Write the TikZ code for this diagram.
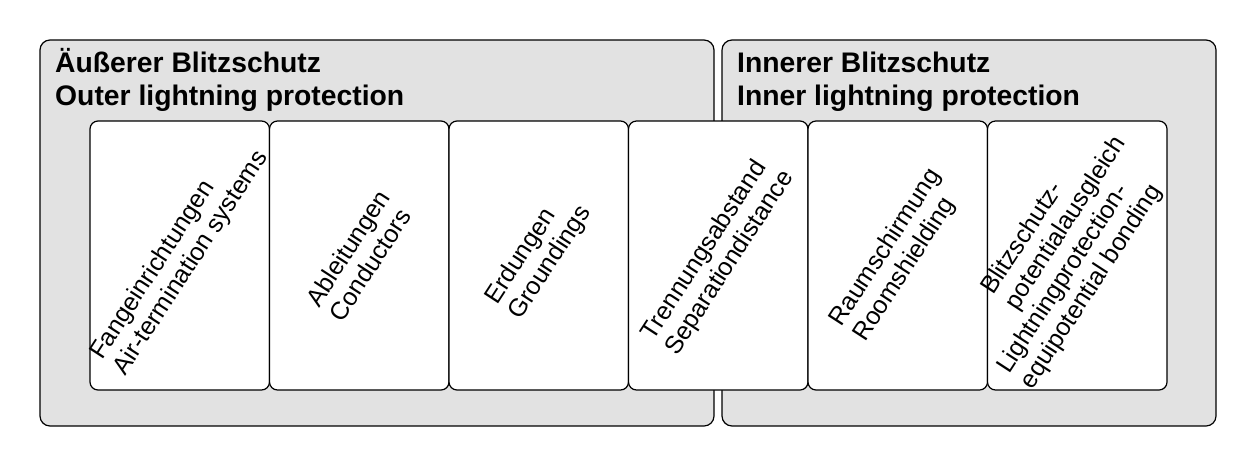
\documentclass[tikz,border=0pt]{standalone}
\usepackage{fontspec}
\setmainfont{Liberation Sans}
\definecolor{panelgray}{RGB}{226,226,226}
\begin{document}
\begin{tikzpicture}[x=1pt,y=-1pt,
  panel/.style={draw=black, line width=1.2pt, fill=panelgray, rounded corners=10pt},
  card/.style={draw=black, line width=1.2pt, fill=white, rounded corners=8pt},
  title/.style={anchor=base west, inner sep=0pt, font=\fontsize{28.3}{33}\selectfont\bfseries},
  lbl/.style={rotate=57, align=left, inner sep=0pt, font=\fontsize{25}{28}\selectfont}]
\useasboundingbox (0,0) rectangle (1257,467);
\path[panel] (40,40) rectangle (714,426);
\path[panel] (722,40) rectangle (1216,426);
\node[title] (o1) at (55,72) {Äußerer Blitzschutz};
\node[title] (o2) at (55,105) {Outer lightning protection};
\node[title] (i1) at (737,72) {Innerer Blitzschutz};
\node[title] (i2) at (737,105) {Inner lightning protection};
\foreach \x/\dx/\name/\txt in {
  90/0/c1/{Fangeinrichtungen\\Air-termination systems},
  269.5/0/c2/{Ableitungen\\Conductors},
  449/0/c3/{Erdungen\\Groundings},
  628.5/0/c4/{Trennungsabstand\\Separationdistance},
  808/0/c5/{Raumschirmung\\Roomshielding},
  987.5/-15/c6/{\hspace*{58pt}Blitzschutz-\\\hspace*{58pt}potentialausgleich\\Lightningprotection-\\equipotential bonding}}{
  \path[card] (\x,121) rectangle ++(179.5,269);
  \node[lbl] (\name) at (\x+89.75+\dx,255.5) {\txt};
}
\end{tikzpicture}
\end{document}
